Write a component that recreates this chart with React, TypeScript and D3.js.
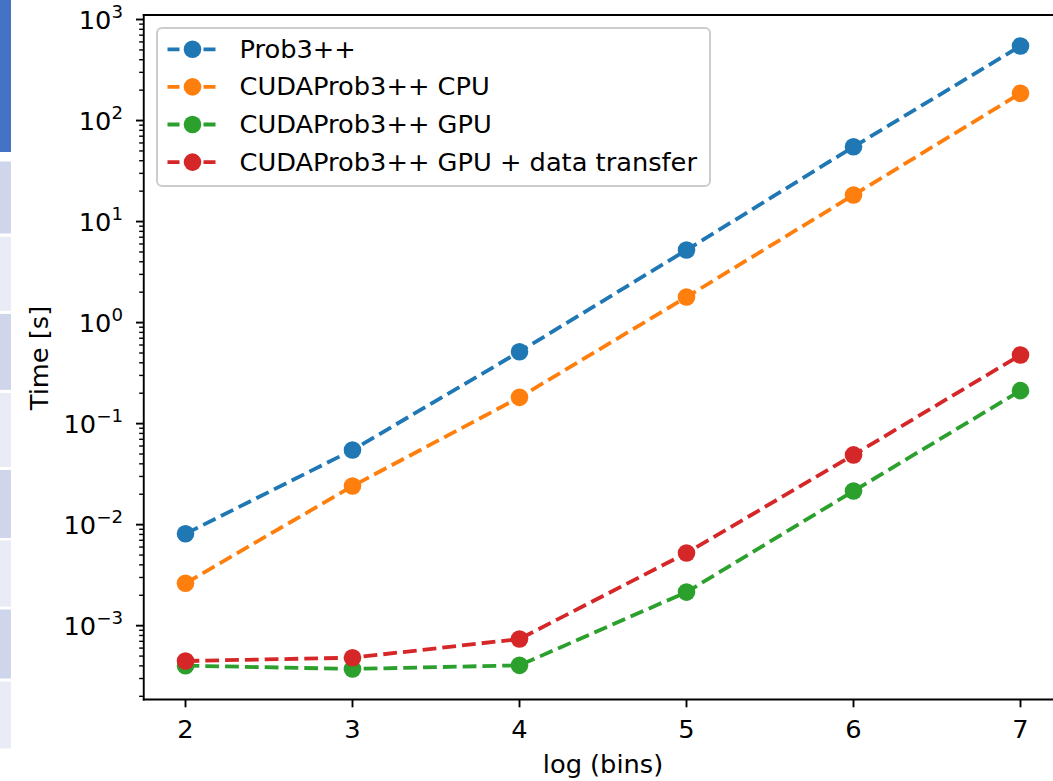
import React from "react";
import * as d3 from "d3";

// Runtime vs. number of bins (log10), for four implementations
const logBins = [2, 3, 4, 5, 6, 7];
const seriesNames = [
  "Prob3++",
  "CUDAProb3++ CPU",
  "CUDAProb3++ GPU",
  "CUDAProb3++ GPU + data transfer",
];
const prob3Times = [0.00812, 0.0548, 0.515, 5.23, 55, 547];
const cudaCpuTimes = [0.00263, 0.0241, 0.182, 1.79, 18.3, 186];
const cudaGpuTimes = [0.000402, 0.000373, 0.000405, 0.00215, 0.0215, 0.212];
const cudaGpuTransferTimes = [0.000447, 0.000482, 0.000738, 0.00524, 0.049, 0.478];
const xTickValues = [2, 3, 4, 5, 6, 7];
const yTickExponents = [-3, -2, -1, 0, 1, 2, 3];

const seriesColors = ["#1f77b4", "#ff7f0e", "#2ca02c", "#d62728"];

const W = 1053;
const H = 781;
const FONT = "'DejaVu Sans', sans-serif";
const FS = 24;
const SX = 1.07; // horizontal text widening

// Plot frame (right edge lies past the visible area)
const left = 143.75;
const right = 1062.25;
const top = 15;
const bottom = 699.5;

// Side strip of table bands
const stripBands: [number, number, string][] = [
  [0, 152, "#4472c4"],
  [161.5, 233.5, "#cfd5ea"],
  [236.8, 310.7, "#e9ebf5"],
  [313.9, 389.8, "#cfd5ea"],
  [393, 467, "#e9ebf5"],
  [470, 538, "#cfd5ea"],
  [540.4, 606.6, "#e9ebf5"],
  [609.5, 678.5, "#cfd5ea"],
  [681.5, 748.5, "#e9ebf5"],
];

function Label(props: {
  x: number;
  y: number;
  anchor?: "start" | "middle" | "end";
  rotate?: number;
  children: React.ReactNode;
}) {
  const rot = props.rotate ? ` rotate(${props.rotate})` : "";
  return (
    <text
      transform={`translate(${props.x},${props.y})${rot} scale(${SX},1)`}
      textAnchor={props.anchor || "start"}
      fontSize={FS}
      fill="#000"
    >
      {props.children}
    </text>
  );
}

export default function App() {
  const x = d3.scaleLinear().domain([1.75, 7.25]).range([left, right]);
  const y = d3
    .scaleLog()
    .domain([Math.pow(10, -3.7307), Math.pow(10, 3.0446)])
    .range([bottom, top]);

  const series = [prob3Times, cudaCpuTimes, cudaGpuTimes, cudaGpuTransferTimes];
  const line = d3
    .line<number>()
    .x((_, i) => x(logBins[i]))
    .y((v) => y(v));

  const minorTicks: number[] = [];
  for (let e = -4; e <= 3; e++) {
    for (let m = 2; m <= 9; m++) {
      const v = m * Math.pow(10, e);
      const py = y(v);
      if (py >= top - 0.5 && py <= bottom + 0.5) minorTicks.push(v);
    }
  }

  const lw = 3.8;
  const dash = "13.8,6";
  const r = 8.8;

  const legendX = 157;
  const legendY = 28;
  const legendW = 553;
  const legendH = 158;
  const rowY = [49.3, 86.9, 124.5, 162.1];

  return (
    <svg
      width={W}
      height={H}
      style={{ position: "absolute", left: 0, top: 0, background: "#fff" }}
      fontFamily={FONT}
    >
      <rect x={0} y={0} width={W} height={H} fill="#fff" />
      {stripBands.map(([y0, y1, c], i) => (
        <rect key={i} x={0} y={y0} width={11} height={y1 - y0} fill={c} />
      ))}

      <defs>
        <clipPath id="plotArea">
          <rect x={left} y={top} width={right - left} height={bottom - top} />
        </clipPath>
      </defs>

      {/* data lines and markers */}
      <g clipPath="url(#plotArea)">
        {series.map((vals, si) => (
          <g key={si}>
            <path
              d={line(vals) || ""}
              fill="none"
              stroke={seriesColors[si]}
              strokeWidth={lw}
              strokeDasharray={dash}
            />
            {vals.map((v, i) => (
              <circle key={i} cx={x(logBins[i])} cy={y(v)} r={r} fill={seriesColors[si]} />
            ))}
          </g>
        ))}
      </g>

      {/* frame */}
      <g stroke="#000" strokeWidth={1.9} fill="none" strokeLinecap="square">
        <line x1={left} y1={top} x2={right} y2={top} />
        <line x1={left} y1={bottom} x2={right} y2={bottom} />
        <line x1={left} y1={top} x2={left} y2={bottom} />
        <line x1={right} y1={top} x2={right} y2={bottom} />
      </g>

      {/* x axis */}
      {xTickValues.map((t) => (
        <g key={t}>
          <line x1={x(t)} x2={x(t)} y1={bottom} y2={bottom + 7.8} stroke="#000" strokeWidth={1.9} />
          <Label x={x(t)} y={738} anchor="middle">
            {t}
          </Label>
        </g>
      ))}
      <Label x={(left + right) / 2} y={773} anchor="middle">
        log (bins)
      </Label>

      {/* y axis */}
      {minorTicks.map((v, i) => (
        <line key={i} x1={left - 4.6} x2={left} y1={y(v)} y2={y(v)} stroke="#000" strokeWidth={1.4} />
      ))}
      {yTickExponents.map((e) => {
        const py = y(Math.pow(10, e));
        return (
          <g key={e}>
            <line x1={left - 7.8} x2={left} y1={py} y2={py} stroke="#000" strokeWidth={1.9} />
            <Label x={123} y={py + 9.5} anchor="end">
              10
              <tspan dy={-11} fontSize={17}>
                {e < 0 ? "\u2212" + Math.abs(e) : String(e)}
              </tspan>
            </Label>
          </g>
        );
      })}
      <Label x={48} y={358} anchor="middle" rotate={-90}>
        Time [s]
      </Label>

      {/* legend */}
      <rect
        x={legendX}
        y={legendY}
        width={legendW}
        height={legendH}
        rx={5}
        fill="#fff"
        fillOpacity={0.8}
        stroke="#cccccc"
        strokeWidth={2}
      />
      {seriesNames.map((name, i) => (
        <g key={name}>
          <line
            x1={166.5}
            x2={218.5}
            y1={rowY[i]}
            y2={rowY[i]}
            stroke={seriesColors[i]}
            strokeWidth={lw}
            strokeDasharray="12,6"
            strokeDashoffset={-1}
          />
          <circle cx={192.5} cy={rowY[i]} r={r} fill={seriesColors[i]} />
          <Label x={239.5} y={rowY[i] + 8.5}>
            {name}
          </Label>
        </g>
      ))}
    </svg>
  );
}
